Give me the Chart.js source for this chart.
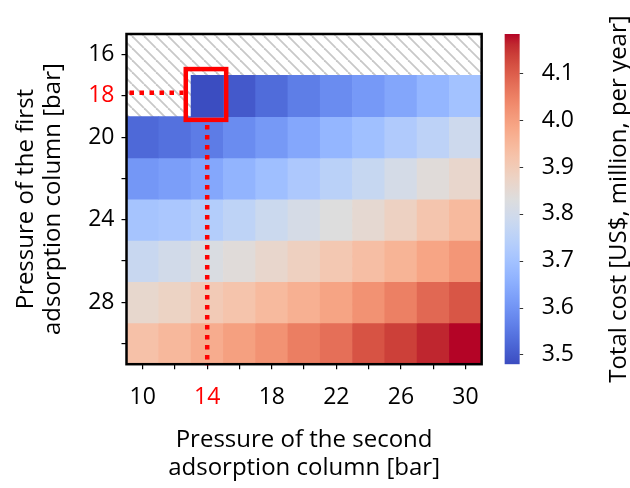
<!DOCTYPE html>
<html><head><meta charset="utf-8">
<script src="https://cdn.jsdelivr.net/npm/chart.js@4"></script>
<style>html,body{margin:0;padding:0;background:#fff}#wrap{width:630px;height:488px}</style>
</head><body><div id="wrap"><canvas id="c" width="630" height="488" style="width:630px;height:488px"></canvas></div>
<script>
// ---- data ----
const xLabels = ['10','12','14','16','18','20','22','24','26','28','30'];
const yRows = [16,18,20,22,24,26,28,30];
const row16 = [null,null,null,null,null,null,null,null,null,null,null];
const row18 = [null,null,3.480,3.500,3.530,3.560,3.585,3.610,3.635,3.670,3.700];
const row20 = [3.525,3.539,3.557,3.585,3.609,3.638,3.669,3.694,3.726,3.754,3.789];
const row22 = [3.606,3.620,3.638,3.666,3.691,3.719,3.747,3.775,3.807,3.839,3.863];
const row24 = [3.705,3.715,3.733,3.757,3.786,3.810,3.832,3.853,3.881,3.916,3.944];
const row26 = [3.779,3.800,3.821,3.839,3.863,3.884,3.909,3.934,3.958,3.987,4.015];
const row28 = [3.860,3.877,3.902,3.920,3.944,3.965,3.990,4.022,4.050,4.085,4.110];
const row30 = [3.927,3.948,3.973,3.997,4.022,4.054,4.075,4.114,4.138,4.163,4.184];
const xTickLabels = ['10','14','18','22','26','30'];
const yTickLabels = [16,18,20,24,28];
const cbTicks = [3.5,3.6,3.7,3.8,3.9,4.0,4.1];
const cbMin = 3.479, cbMax = 4.184;
const optX = '14', optY = 18;
const xTitle = ['Pressure of the second','adsorption column [bar]'];
const yTitle = ['Pressure of the first','adsorption column [bar]'];
const cbTitle = 'Total cost [US$, million, per year]';

// ---- style ----
const FONT = "'Open Sans', 'Noto Sans', sans-serif";
const RED = '#ff0000';
const CW = [[59,76,192],[68,90,204],[77,104,215],[87,117,225],[98,130,234],[108,142,241],[119,154,247],[130,165,251],[141,176,254],[152,185,255],[163,194,255],[174,201,253],[184,208,249],[194,213,244],[204,217,238],[213,219,230],[221,221,221],[229,216,209],[236,211,197],[241,204,184],[245,196,172],[247,187,159],[247,177,147],[247,166,134],[244,154,123],[241,141,111],[236,127,99],[229,112,89],[222,96,77],[213,80,66],[203,62,56],[192,40,47],[180,4,38]];
function coolwarm(t){
  t = Math.max(0, Math.min(1, t));
  const f = t*(CW.length-1); const i = Math.min(CW.length-2, Math.floor(f)); const r = f-i;
  const a = CW[i], b = CW[i+1];
  return 'rgb(' + [0,1,2].map(k => Math.round(a[k]+(b[k]-a[k])*r)).join(',') + ')';
}
function hatch(){
  const s = 12, c = document.createElement('canvas'); c.width = s; c.height = s;
  const g = c.getContext('2d'); g.fillStyle = '#fff'; g.fillRect(0,0,s,s);
  g.strokeStyle = '#c8c8c8'; g.lineWidth = 1.8;
  for (let k=-1;k<=1;k++){ g.beginPath(); g.moveTo(k*s,0); g.lineTo(k*s+s,s); g.stroke(); }
  return g.createPattern(c,'repeat');
}

const rows = [row16,row18,row20,row22,row24,row26,row28,row30];
const datasets = yRows.map((y,i) => ({
  label: 'P1 ' + y,
  data: rows[i].map(v => v == null ? null : [y-1, y+1]),
  backgroundColor: rows[i].map(v => v == null ? 'rgba(0,0,0,0)' : coolwarm((v-cbMin)/(cbMax-cbMin))),
  borderWidth: 0,
  grouped: false,
  barPercentage: 1,
  categoryPercentage: 1
}));

const decor = {
  id: 'decor',
  beforeDatasetsDraw(chart){
    const {ctx, chartArea:a} = chart;
    ctx.save(); ctx.fillStyle = hatch(); ctx.fillRect(a.left, a.top, a.right-a.left, a.bottom-a.top); ctx.restore();
  },
  afterDraw(chart){
    const {ctx, chartArea:a, scales} = chart;
    // frame
    ctx.save(); ctx.strokeStyle = '#000'; ctx.lineWidth = 2.5;
    ctx.strokeRect(a.left, a.top, a.right-a.left, a.bottom-a.top); ctx.restore();
    // colorbar
    const cb = scales.cb;
    const yb = cb.getPixelForValue(cbMin), yt = cb.getPixelForValue(cbMax);
    const x0 = a.right + 23, w = 15;
    const grad = ctx.createLinearGradient(0, yb, 0, yt);
    CW.forEach((c,i) => grad.addColorStop(i/(CW.length-1), 'rgb('+c.join(',')+')'));
    ctx.save(); ctx.fillStyle = grad; ctx.fillRect(x0, yt, w, yb-yt);
    ctx.strokeStyle = '#333'; ctx.lineWidth = 1;
    cbTicks.forEach(v => { const y = Math.round(cb.getPixelForValue(v))+0.5; ctx.beginPath(); ctx.moveTo(x0+w, y); ctx.lineTo(x0+w+3.5, y); ctx.stroke(); });
    // colorbar title
    ctx.translate(a.right + 137, (a.top+a.bottom)/2); ctx.rotate(-Math.PI/2);
    ctx.fillStyle = '#000'; ctx.font = '24px ' + FONT; ctx.textAlign = 'center'; ctx.textBaseline = 'middle';
    ctx.fillText(cbTitle, 0, 0);
    ctx.restore();
    // optimum marker
    const xs = scales.x, ys = scales.y;
    const xi = xLabels.indexOf(optX);
    const L = xs.getPixelForValue(xi-0.664), R = xs.getPixelForValue(xi+0.587);
    const T = ys.getPixelForValue(optY-1.30), B = ys.getPixelForValue(optY+1.16);
    const lw = 4.5;
    ctx.save(); ctx.strokeStyle = RED; ctx.lineWidth = lw;
    ctx.strokeRect(L, T, R-L, B-T);
    ctx.setLineDash([4.5,5.5]); ctx.lineCap = 'butt';
    const yc = ys.getPixelForValue(optY-0.15);
    ctx.beginPath(); ctx.moveTo(a.left+3, yc); ctx.lineTo(L-lw/2, yc); ctx.stroke();
    const xc = xs.getPixelForValue(xi);
    ctx.beginPath(); ctx.moveTo(xc, B+lw/2+3); ctx.lineTo(xc, a.bottom+1); ctx.stroke();
    ctx.restore();
  }
};

new Chart(document.getElementById('c'), {
  type: 'bar',
  data: { labels: xLabels, datasets },
  plugins: [decor],
  options: {
    responsive: false, animation: false, events: [],
    layout: { padding: { left: 12, right: 56, top: 34, bottom: 2 } },
    plugins: { legend: { display: false }, tooltip: { enabled: false } },
    scales: {
      x: {
        type: 'category', offset: true,
        grid: { display: true, offset: false, drawOnChartArea: false, drawTicks: true, tickLength: 5, color: '#000', lineWidth: 1.2 },
        border: { display: false },
        ticks: {
          autoSkip: false, maxRotation: 0, padding: 14,
          font: { family: FONT, size: 23 },
          color: c => xLabels[c.tick.value] === optX ? RED : '#000',
          callback: (v) => xTickLabels.includes(xLabels[v]) ? xLabels[v] : ''
        },
        title: { display: true, text: xTitle, color: '#000', font: { family: FONT, size: 24, lineHeight: 1.15 }, padding: { top: 2, bottom: 4 } }
      },
      y: {
        type: 'linear', min: 15, max: 31, reverse: true,
        afterBuildTicks: s => { s.ticks = yRows.map(v => ({ value: v })); },
        grid: { display: true, drawOnChartArea: false, drawTicks: true, tickLength: 5, color: '#000', lineWidth: 1.2 },
        border: { display: false },
        ticks: {
          padding: 7, font: { family: FONT, size: 23 },
          color: c => c.tick.value === optY ? RED : '#000',
          callback: v => yTickLabels.includes(v) ? String(v) : ''
        },
        title: { display: true, text: yTitle, color: '#000', font: { family: FONT, size: 24, lineHeight: 1.15 }, padding: { top: 0, bottom: 14 } }
      },
      cb: {
        type: 'linear', axis: 'y', position: 'right', min: cbMin, max: cbMax,
        afterBuildTicks: s => { s.ticks = cbTicks.map(v => ({ value: v })); },
        grid: { display: true, drawOnChartArea: false, drawTicks: true, tickLength: 60, color: 'rgba(0,0,0,0)' },
        border: { display: false },
        ticks: { padding: 0, color: '#000', font: { family: FONT, size: 23 }, callback: v => v.toFixed(1) }
      }
    }
  }
});
</script></body></html>
